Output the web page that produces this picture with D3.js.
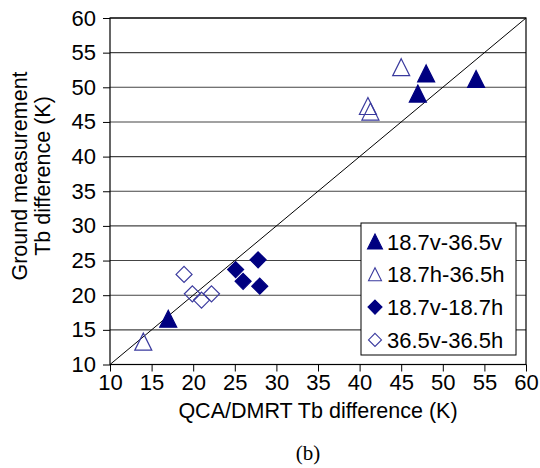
<!DOCTYPE html>
<html>
<head>
<meta charset="utf-8">
<script src="https://cdn.jsdelivr.net/npm/d3@7"></script>
<style>
  body { margin: 0; background: #fff; }
  text { font-family: Arial, "Liberation Sans", sans-serif; }
</style>
</head>
<body>
<script>
// series values
var names = ["18.7v-36.5v", "18.7h-36.5h", "18.7v-18.7h", "36.5v-36.5h"];
var vvX = [17.0, 47.0, 48.0, 54.0];
var vvY = [16.6, 49.1, 52.0, 51.2];
var hhX = [14.0, 41.0, 41.3, 45.0];
var hhY = [13.3, 47.3, 46.5, 52.9];
var v18X = [25.1, 26.0, 27.8, 28.0];
var v18Y = [23.7, 22.0, 25.1, 21.3];
var v36X = [18.9, 19.9, 21.0, 22.2];
var v36Y = [23.0, 20.2, 19.3, 20.2];
var ticks = [10, 15, 20, 25, 30, 35, 40, 45, 50, 55, 60];

var navy = "#000080",
  light = "#3a3a9e";

var width = 540,
  height = 468;

var x = d3.scaleLinear().domain([10, 60]).range([110, 526]);
var y = d3.scaleLinear().domain([10, 60]).range([364.5, 18]);

var svg = d3.select("body").append("svg").attr("width", width).attr("height", height);

// gridlines
svg
  .selectAll("line.grid")
  .data(ticks)
  .enter()
  .append("line")
  .attr("class", "grid")
  .attr("x1", x(10))
  .attr("x2", x(60))
  .attr("y1", function (d) { return y(d); })
  .attr("y2", function (d) { return y(d); })
  .attr("stroke", "#444")
  .attr("stroke-width", 1.1);

// 1:1 line
svg
  .append("line")
  .attr("x1", x(10))
  .attr("y1", y(10))
  .attr("x2", x(60))
  .attr("y2", y(60))
  .attr("stroke", "#000")
  .attr("stroke-width", 1);

// frame
svg
  .append("rect")
  .attr("x", x(10))
  .attr("y", y(60))
  .attr("width", x(60) - x(10))
  .attr("height", y(10) - y(60))
  .attr("fill", "none")
  .attr("stroke", "#000")
  .attr("stroke-width", 1.2);

var yAxis = svg
  .append("g")
  .attr("transform", "translate(" + x(10) + ",0)")
  .call(d3.axisLeft(y).tickValues(ticks).tickSize(7).tickPadding(7));
var xAxis = svg
  .append("g")
  .attr("transform", "translate(0," + y(10) + ")")
  .call(d3.axisBottom(x).tickValues(ticks).tickSize(7).tickPadding(3));
[xAxis, yAxis].forEach(function (g) {
  g.select(".domain").remove();
  g.selectAll("line").attr("stroke", "#000");
  g.selectAll("text").attr("font-size", 22).attr("fill", "#000")
    .style("font-family", "Arial, 'Liberation Sans', sans-serif");
});

// marker shapes
function triangle(s) {
  var h = s / 2;
  return "M0," + -h + "L" + h + "," + h + "L" + -h + "," + h + "Z";
}
function diamond(s) {
  var h = s / 2;
  return "M0," + -h + "L" + h + ",0L0," + h + "L" + -h + ",0Z";
}

var series = [
  { xs: vvX, ys: vvY, shape: triangle, size: 17, fill: navy, stroke: navy, lsize: 15 },
  { xs: hhX, ys: hhY, shape: triangle, size: 17, fill: "none", stroke: light, lsize: 13 },
  { xs: v18X, ys: v18Y, shape: diamond, size: 16, fill: navy, stroke: navy, lsize: 14 },
  { xs: v36X, ys: v36Y, shape: diamond, size: 16, fill: "none", stroke: light, lsize: 13 }
];

series.forEach(function (s) {
  svg
    .append("g")
    .selectAll("path")
    .data(s.xs)
    .enter()
    .append("path")
    .attr("transform", function (d, i) {
      return "translate(" + x(d) + "," + y(s.ys[i]) + ")";
    })
    .attr("d", s.shape(s.size))
    .attr("fill", s.fill === "none" ? "#fff" : s.fill)
    .attr("fill-opacity", s.fill === "none" ? 0 : 1)
    .attr("stroke", s.stroke)
    .attr("stroke-width", 1.2);
});

// legend
var legend = svg.append("g");
legend
  .append("rect")
  .attr("x", 361)
  .attr("y", 223)
  .attr("width", 155)
  .attr("height", 132)
  .attr("fill", "#fff")
  .attr("stroke", "#000")
  .attr("stroke-width", 1);

var rows = legend
  .selectAll("g.row")
  .data(series)
  .enter()
  .append("g")
  .attr("class", "row")
  .attr("transform", function (d, i) {
    return "translate(375," + (241.5 + i * 32.8) + ")";
  });
rows
  .append("path")
  .attr("d", function (d) { return d.shape(d.lsize); })
  .attr("fill", function (d) { return d.fill === "none" ? "none" : d.fill; })
  .attr("stroke", function (d) { return d.stroke; })
  .attr("stroke-width", 1.1);
rows
  .append("text")
  .attr("x", 12)
  .attr("y", 8)
  .attr("font-size", 22)
  .text(function (d, i) { return names[i]; });

// axis titles
svg
  .append("text")
  .attr("x", (x(10) + x(60)) / 2)
  .attr("y", 418)
  .attr("text-anchor", "middle")
  .attr("font-size", 21.5)
  .text("QCA/DMRT Tb difference (K)");

var yt = svg
  .append("text")
  .attr("transform", "translate(27,176) rotate(-90)")
  .attr("text-anchor", "middle")
  .attr("font-size", 21.5);
yt.append("tspan").attr("x", 0).attr("y", 0).text("Ground measurement");
yt.append("tspan").attr("x", 0).attr("y", 23).text("Tb difference (K)");

svg
  .append("text")
  .attr("x", 308)
  .attr("y", 460)
  .attr("text-anchor", "middle")
  .attr("font-size", 21)
  .style("font-family", "'Times New Roman', 'Liberation Serif', serif")
  .text("(b)");
</script>
</body>
</html>
